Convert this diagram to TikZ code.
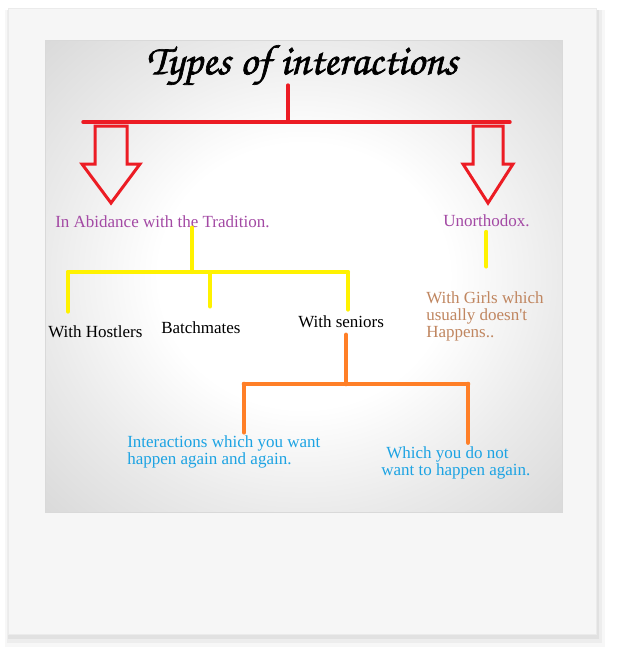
\documentclass[tikz,border=0pt]{standalone}
\usepackage{fontspec}
\setmainfont{Liberation Serif}
\newfontfamily\titlefont[FakeBold=1.5]{TeX Gyre Chorus}

\definecolor{redc}{HTML}{EC1C24}
\definecolor{yellowc}{HTML}{FFF200}
\definecolor{orangec}{HTML}{FF7F27}
\definecolor{purplec}{HTML}{A349A4}
\definecolor{bluec}{HTML}{1CA3E3}
\definecolor{brownc}{HTML}{C08660}
\definecolor{framec}{HTML}{F6F6F6}

\pgfdeclareradialshading{photo}{\pgfpoint{0bp}{0bp}}{color(0bp)=(white); color(14bp)=(white); color(25bp)=(black!8); color(36bp)=(black!15); color(50bp)=(black!15)}

% hollow arrow: centre x, top y, shaft half width, head half width
\def\holarrow#1#2#3#4{\draw[arrowline] (#1-#3,#2) -- (#1-#3,164) -- (#1-#4,164) -- (#1,203) -- (#1+#4,164) -- (#1+#3,164) -- (#1+#3,#2) -- cycle;}

\begin{document}
\begin{tikzpicture}[
x=0.75pt, y=-0.75pt,
lbl/.style={inner sep=0pt, anchor=base west, align=left, font=\fontsize{12.75}{12.75}\selectfont},
redline/.style={draw=redc, line width=2.6pt, line cap=round},
arrowline/.style={draw=redc, line width=2.25pt},
yellowline/.style={draw=yellowc, line width=3pt, line cap=round},
orangeline/.style={draw=orangec, line width=3.5pt, line cap=round},
]
\useasboundingbox (0,0) rectangle (617,653);

% Frame:
\fill[black, opacity=0.03] (5,10) rectangle (605,647);
\fill[black, opacity=0.04] (7,10) rectangle (602,643);
\fill[black, opacity=0.05] (8,10) rectangle (599,639);
\filldraw[fill=framec, draw=black!8] (8,8) rectangle (596,634);
\shade[shading=photo] (45,40) rectangle (562,512);
\draw[black!15] (45,40) rectangle (562,512);

\node[font=\titlefont\fontsize{32}{32}\selectfont, inner sep=0pt] at (302,65) (title) {Types of interactions};

\node[lbl, text=purplec] at (55,227) (abid) {In Abidance with the Tradition.};
\node[lbl, text=purplec] at (443,226) (unorth) {Unorthodox.};

\node[lbl] at (48,337) (hostl) {With Hostlers};
\node[lbl] at (161,333) (batch) {Batchmates};
\node[lbl] at (298,327) (senior) {With seniors};
\node[lbl, text=brownc, font=\fontsize{12.75}{12.4}\selectfont] at (426,337) (girls) {With Girls which\\usually doesn\textquotesingle t\\Happens..};

\node[lbl, text=bluec] at (127,464) (want) {Interactions which you want\\happen again and again.};
\node[lbl, text=bluec] at (381,475) (donot) {\hspace*{3.75pt}Which you do not\\want to happen again.};

% Red bar:
\coordinate (rj) at (288,122);
\coordinate (rl) at (83,122);
\coordinate (rr) at (510,122);
\draw[redline] (title.south -| rj) -- (rj);
\draw[redline] (rl) -- (rr);

\holarrow{111}{126}{16}{29}
\holarrow{488}{126}{15}{25}

% Yellow:
\coordinate (yj) at (192,272);
\coordinate (yh) at (68,272);
\coordinate (yb) at (210,272);
\coordinate (ys) at (348,272);
\draw[yellowline] (abid.south -| yj) -- (yj);
\draw[yellowline] (yh) -- (ys);
\draw[yellowline, shorten >=10pt] (yh) -- (yh |- hostl.north);
\draw[yellowline, shorten >=10.8pt] (yb) -- (yb |- batch.north);
\draw[yellowline, shorten >=4pt] (ys) -- (ys |- senior.north);
\draw[yellowline, shorten <=4pt, shorten >=19pt] (unorth.south) -- (unorth.south |- girls.north);

% Orange:
\coordinate (oj) at (346,384);
\coordinate (ol) at (244,384);
\coordinate (or) at (468,384);
\draw[orangeline, shorten <=5.5pt] (senior.south -| oj) -- (oj);
\draw[orangeline] (ol) -- (or);
\draw[orangeline, shorten >=2pt] (ol) -- (ol |- want.north);
\draw[orangeline, shorten >=2.5pt] (or) -- (or |- donot.north);
\end{tikzpicture}
\end{document}
